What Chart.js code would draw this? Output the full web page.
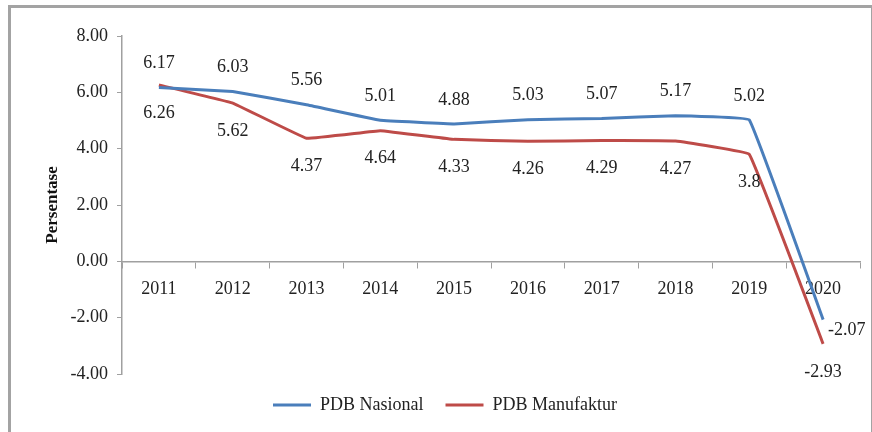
<!DOCTYPE html>
<html>
<head>
<meta charset="utf-8">
<script src="https://cdn.jsdelivr.net/npm/chart.js@4.4.1/dist/chart.umd.min.js"></script>
<style>
    html, body { margin: 0; padding: 0; background: #fff; }
    #wrap { position: relative; width: 872px; height: 432px; overflow: hidden; }
    #frame {
        position: absolute; left: 8px; top: 5px; width: 866px; height: 440px;
        border: 3px solid #a3a3a3; box-sizing: border-box;
    }
    #chart { position: absolute; left: 0; top: 0; }
</style>
</head>
<body>
<div id="wrap">
    <div id="frame"></div>
    <canvas id="chart" width="872" height="432"></canvas>
</div>
<script>
// Data
const years = ['2011', '2012', '2013', '2014', '2015', '2016', '2017', '2018', '2019', '2020'];
const pdbNasional = [6.17, 6.03, 5.56, 5.01, 4.88, 5.03, 5.07, 5.17, 5.02, -2.07];
const pdbManufaktur = [6.26, 5.62, 4.37, 4.64, 4.33, 4.26, 4.29, 4.27, 3.8, -2.93];

const FONT = '"Liberation Serif", "Times New Roman", serif';

// draws the value next to every point (Nasional above, Manufaktur below)
const valueLabels = {
    id: 'valueLabels',
    afterDatasetsDraw(chart) {
        const ctx = chart.ctx;
        ctx.save();
        ctx.font = '18px ' + FONT;
        ctx.fillStyle = '#222';
        ctx.textBaseline = 'middle';
        chart.data.datasets.forEach((ds, di) => {
            const meta = chart.getDatasetMeta(di);
            meta.data.forEach((pt, i) => {
                const last = i === ds.data.length - 1;
                let x = pt.x, y = pt.y;
                ctx.textAlign = 'center';
                if (di === 0) {
                    if (last) {
                        ctx.textAlign = 'left';
                        x += 5;
                        y += 11;
                    } else {
                        y -= 24;
                    }
                } else {
                    y += 28;
                }
                ctx.fillText(String(ds.data[i]), x, y);
            });
        });
        ctx.restore();
    }
};

new Chart(document.getElementById('chart'), {
    type: 'line',
    data: {
        labels: years,
        datasets: [
            {
                label: 'PDB Nasional',
                data: pdbNasional,
                borderColor: '#4a7ebb',
                backgroundColor: '#4a7ebb',
                borderWidth: 3,
                tension: 0.05,
                pointRadius: 0,
                fill: false
            },
            {
                label: 'PDB Manufaktur',
                data: pdbManufaktur,
                borderColor: '#be4b48',
                backgroundColor: '#be4b48',
                borderWidth: 3,
                tension: 0.05,
                pointRadius: 0,
                fill: false
            }
        ]
    },
    options: {
        responsive: false,
        animation: false,
        layout: {
            padding: { left: 30, right: 12, top: 36, bottom: 8 }
        },
        plugins: {
            tooltip: { enabled: false },
            legend: {
                position: 'bottom',
                labels: {
                    color: '#222',
                    font: { family: FONT, size: 18 },
                    usePointStyle: true,
                    pointStyle: 'line',
                    pointStyleWidth: 38,
                    padding: 22
                }
            }
        },
        scales: {
            x: {
                position: { y: 0 },
                offset: true,
                grid: {
                    offset: true,
                    drawOnChartArea: false,
                    drawTicks: true,
                    tickLength: 6,
                    color: '#a0a0a0'
                },
                border: { color: '#a0a0a0', width: 1.5 },
                ticks: {
                    color: '#222',
                    padding: 11,
                    maxRotation: 0,
                    font: { family: FONT, size: 18 }
                }
            },
            y: {
                min: -4,
                max: 8,
                afterFit: (scale) => { scale.width = 92; },
                grid: {
                    drawOnChartArea: false,
                    drawTicks: true,
                    tickLength: 5,
                    color: '#a0a0a0'
                },
                border: { color: '#a0a0a0', width: 1.5 },
                ticks: {
                    stepSize: 2,
                    color: '#222',
                    padding: 9,
                    font: { family: FONT, size: 18 },
                    callback: (v) => v.toFixed(2)
                },
                title: {
                    display: true,
                    text: 'Persentase',
                    color: '#111',
                    font: { family: FONT, size: 17, weight: 'bold' },
                    padding: { top: 12, bottom: 0 }
                }
            }
        }
    },
    plugins: [valueLabels]
});
</script>
</body>
</html>
